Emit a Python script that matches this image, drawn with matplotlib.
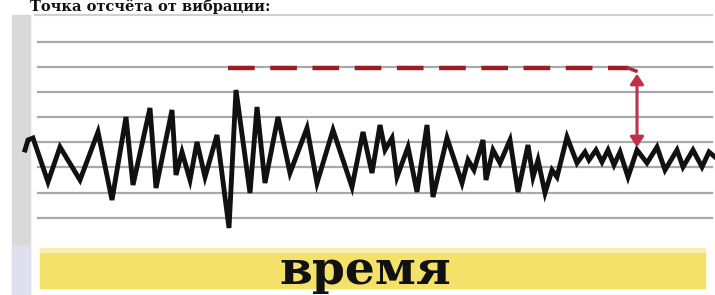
import matplotlib
matplotlib.use("Agg")
import matplotlib.pyplot as plt
from matplotlib.patches import Rectangle, FancyArrowPatch

# ---- data ----
t = [25, 28, 33, 48, 60, 80, 98, 112, 126, 133, 150, 156, 172, 176, 182, 190, 197, 205,
     217, 229, 236, 250, 257, 265, 278, 290, 307, 317, 333, 352, 363, 372, 380, 385,
     392, 397, 408, 417, 427, 433, 447, 462, 468, 474, 483, 486, 493, 500, 510, 518,
     528, 533, 538, 545, 552, 557, 567, 577, 585, 589, 596, 602, 608, 614, 620, 628,
     637, 647, 657, 665, 677, 683, 693, 702, 709, 715]
amp = [5, 15, 17, -27, 8, -25, 23, -45, 38, -30, 47, -33, 45, -20, 3, -25, 13, -22,
       20, -73, 65, -38, 48, -28, 38, -18, 27, -28, 25, -32, 23, -18, 30, 5,
       17, -22, 8, -37, 30, -42, 17, -28, -5, -15, 15, -25, 5, -8, 15, -37,
       10, -22, -5, -38, -15, -22, 18, -8, 3, -5, 5, -7, 5, -10, 3, -22,
       5, -8, 8, -15, 5, -12, 5, -12, 3, -2]
grid_levels = [113, 88, 63, 38, 13, -12, -38, -63]
threshold = 87
baseline = 5
x_label = "время"
title_text = "Точка отсчёта от вибрации:"

W, H = 715, 295
fig = plt.figure(figsize=(W / 100, H / 100), dpi=100)
ax = fig.add_axes([0, 0, 1, 1])
ax.set_xlim(0, W)
ax.set_ylim(155 - H, 155)
ax.axis("off")

# left grey band
ax.add_patch(Rectangle((12, 155 - H), 18, H - 15, color="#d9d9d9", zorder=0))
ax.add_patch(Rectangle((12, 155 - H), 18, 50, color="#dedeec", zorder=0))
# plot frame top line
ax.plot([35, 712], [140, 140], color="#d0d0d0", lw=1.5, zorder=1)

# grid lines
for g in grid_levels:
    ax.plot([38, 712], [g, g], color="#a9a9a9", lw=1.6, zorder=1)

# yellow band
ax.add_patch(Rectangle((40, -133), 665, 38, color="#f3e16a", zorder=1))
ax.add_patch(Rectangle((40, -97), 665, 4, color="#f8eeb0", zorder=1))
ax.text(365, -116, x_label, ha="center", va="center", fontsize=34,
        fontweight="bold", family="DejaVu Serif", color="#111111", zorder=3)

# top title (small band above the chart)
ax.text(30, 148, title_text, ha="left", va="center", fontsize=10.5,
        fontweight="bold", family="DejaVu Serif", color="#111111", zorder=3)

# signal
ax.plot(t, amp, color="#111111", lw=3.5, solid_joinstyle="miter", zorder=4)

# threshold dashed line and arrow
ax.plot([228, 628], [threshold, threshold], color="#9c1c24", lw=3.2,
        dashes=(6, 3.5), zorder=5)
ax.plot([628, 636], [threshold, threshold - 3], color="#b02838", lw=2.5, zorder=5)
arr = FancyArrowPatch((637, threshold - 3), (637, baseline),
                      arrowstyle="<|-|>,head_length=6,head_width=4",
                      color="#c0304a", lw=2.2, zorder=5)
ax.add_patch(arr)

fig.savefig("out.png", dpi=100)
